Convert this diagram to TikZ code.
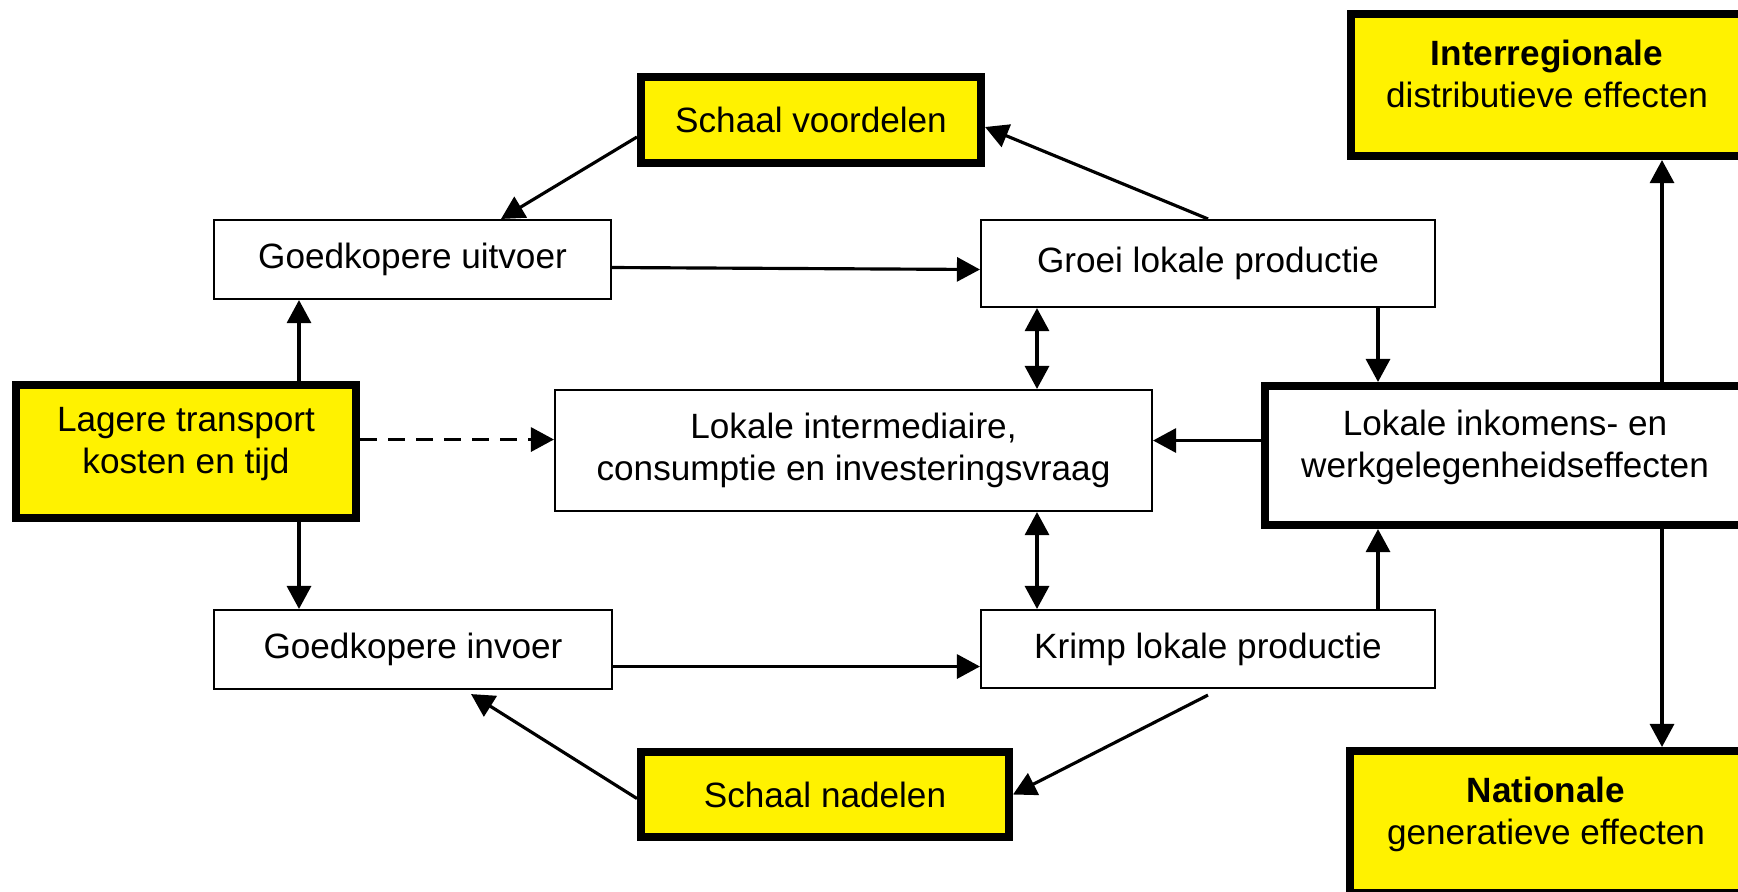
\documentclass[tikz,border=0pt]{standalone}
\usepackage{fontspec}
\setmainfont{Liberation Sans}
\usepackage{tikz}
\usetikzlibrary{positioning,arrows.meta,calc}

\begin{document}
\begin{tikzpicture}[
  >={Triangle[length=2.3mm,width=2.4mm]},
  plain/.style={rectangle,draw,line width=0.6pt,fill=white,align=center,inner sep=2pt},
  key/.style={rectangle,draw,line width=2.3pt,fill=yellow,align=center,inner sep=2pt},
  hub/.style={rectangle,draw,line width=2.3pt,fill=white,align=center,inner sep=2pt},
  raised/.style={text depth=0.23cm},
  link/.style={->,line width=0.9pt},
  twoway/.style={<->,line width=0.9pt},
  hint/.style={->,line width=0.9pt,dash pattern=on 1.7mm off 1.1mm},
]
\useasboundingbox (0,0) rectangle (17.38,-8.91);

% === LEFT: cause ===
\node[key,raised,minimum width=3.40cm,minimum height=1.33cm] (lagere) at (1.86,-4.515) {Lagere transport\\kosten en tijd};

% === TOP ROW ===
\node[key,minimum width=3.40cm,minimum height=0.86cm] (voordelen) at (8.11,-1.20) {Schaal voordelen};
\node[plain,minimum width=3.97cm,minimum height=0.79cm] (uitvoer) at (4.125,-2.595) {Goedkopere uitvoer};
\node[plain,minimum width=4.54cm,minimum height=0.87cm] (groei) at (12.08,-2.635) {Groei lokale productie};

% === MIDDLE ROW ===
\node[plain,minimum width=5.97cm,minimum height=1.21cm] (intermed) at (8.535,-4.505) {Lokale intermediaire,\\consumptie en investeringsvraag};
\node[hub,raised,minimum width=4.80cm,minimum height=1.39cm] (inkomens) at (15.05,-4.555) {Lokale inkomens- en\\werkgelegenheidseffecten};

% === BOTTOM ROW ===
\node[plain,minimum width=3.98cm,minimum height=0.79cm] (invoer) at (4.13,-6.495) {Goedkopere invoer};
\node[plain,minimum width=4.54cm,minimum height=0.78cm] (krimp) at (12.08,-6.49) {Krimp lokale productie};
\node[key,minimum width=3.68cm,minimum height=0.85cm] (nadelen) at (8.25,-7.945) {Schaal nadelen};

% === RIGHT: outcomes ===
\node[key,raised,minimum width=3.92cm,minimum height=1.42cm] (interreg) at (15.47,-0.85) {\textbf{Interregionale}\\distributieve effecten};
\node[key,raised,minimum width=3.92cm,minimum height=1.42cm] (nationale) at (15.46,-8.22) {\textbf{Nationale}\\generatieve effecten};

% === upper loop ===
\draw[link] ([yshift=-0.17cm]voordelen.west) -- ([xshift=0.885cm]uitvoer.north);
\draw[link] (groei.north) -- ([yshift=-0.07cm]voordelen.east);
\draw[link] ([yshift=-0.08cm]uitvoer.east) -- ([yshift=-0.06cm]groei.west);
\draw[link] ([xshift=1.13cm]lagere.north) -- ([xshift=1.13cm]lagere.north |- uitvoer.south);

% === lower loop ===
\draw[link] ([xshift=1.13cm]lagere.south) -- ([xshift=1.13cm]lagere.south |- invoer.north);
\draw[link] ([yshift=-0.17cm]invoer.east) -- ([yshift=-0.17cm]invoer.east -| krimp.west);
\draw[link] ([yshift=-0.06cm]krimp.south) -- (nadelen.east);
\draw[link] ([yshift=-0.04cm]nadelen.west) -- ([xshift=0.58cm,yshift=-0.04cm]invoer.south);

% === demand in the middle ===
\draw[hint] ([yshift=0.12cm]lagere.east) -- ([yshift=0.12cm]lagere.east -| intermed.west);
\draw[twoway] ([xshift=-1.71cm]groei.south) -- ([xshift=-1.71cm]groei.south |- intermed.north);
\draw[twoway] ([xshift=-1.71cm]krimp.north) -- ([xshift=-1.71cm]krimp.north |- intermed.south);

% === income and employment ===
\draw[link] ([xshift=1.70cm]groei.south) -- ([xshift=1.70cm]groei.south |- inkomens.north);
\draw[link] ([xshift=1.70cm]krimp.north) -- ([xshift=1.70cm]krimp.north |- inkomens.south);
\draw[link] ([yshift=0.15cm]inkomens.west) -- ([yshift=0.15cm]inkomens.west -| intermed.east);
\draw[link] ([xshift=1.57cm]inkomens.north) -- ([xshift=1.57cm]inkomens.north |- interreg.south);
\draw[link] ([xshift=1.57cm]inkomens.south) -- ([xshift=1.57cm]inkomens.south |- nationale.north);

\end{tikzpicture}
\end{document}
